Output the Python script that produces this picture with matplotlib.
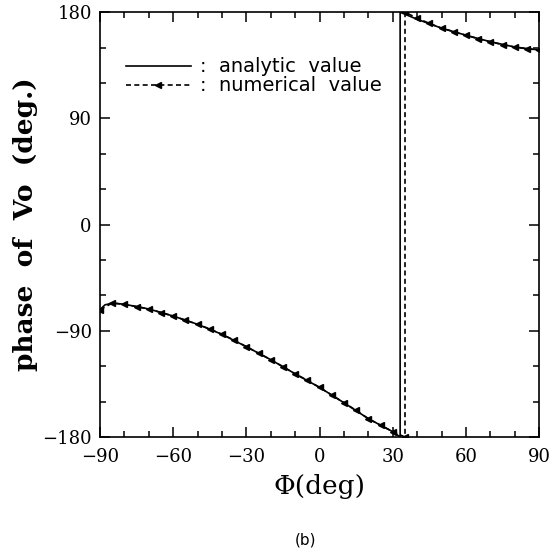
import matplotlib
matplotlib.use("Agg")
import matplotlib.pyplot as plt
from matplotlib.ticker import MultipleLocator

# analytic curve (Phi in deg, phase in deg)
phi_analytic = [-90, -88, -85, -80, -70, -60, -50, -40, -30, -20, -10, 0, 10, 20, 30, 33,
                33, 40, 50, 60, 70, 80, 90]
phase_analytic = [-72, -68, -66.5, -67.5, -71.5, -77.5, -84.5, -93, -103.5, -114.5, -126.5, -138,
                  -151, -164.5, -175.5, -180,
                  180, 174, 166.5, 160.5, 155, 150.5, 148]

# numerical values
phi_numerical = [-90, -85, -80, -75, -70, -65, -60, -55, -50, -45, -40, -35, -30, -25, -20, -15,
                 -10, -5, 0, 5, 10, 15, 20, 25, 30, 35,
                 35, 40, 45, 50, 55, 60, 65, 70, 75, 80, 85, 90]
phase_numerical = [-72, -66.5, -67.5, -69.5, -71.5, -74.5, -77.5, -81, -84.5, -88.5, -93, -98,
                   -103.5, -109, -114.5, -120.5, -126.5, -132, -138, -144.5, -151, -157.5,
                   -164.5, -170, -175.5, -180,
                   180, 175, 170.5, 166.5, 163.5, 160.5, 157.5, 155, 152.5, 150.5, 149, 148]

xticks = [-90, -60, -30, 0, 30, 60, 90]
yticks = [-180, -90, 0, 90, 180]

fig = plt.figure(figsize=(5.53, 5.56), dpi=100)
ax = fig.add_axes([0.181, 0.214, 0.794, 0.764])

ax.plot(phi_analytic, phase_analytic, color="black", lw=1.2, label=":  analytic  value")
ax.plot(phi_numerical, phase_numerical, color="black", lw=1.2, ls=(0, (3, 2)),
        marker="<", markersize=3.8, label=":  numerical  value")

ax.set_xlim(-90, 90)
ax.set_ylim(-180, 180)
ax.set_xticks(xticks)
ax.set_yticks(yticks)
ax.xaxis.set_minor_locator(MultipleLocator(10))
ax.yaxis.set_minor_locator(MultipleLocator(30))
ax.tick_params(which="both", direction="in", top=True, right=True, width=1.1)
ax.tick_params(which="major", length=7, labelsize=13)
ax.tick_params(axis="x", which="major", pad=8)
ax.tick_params(axis="y", which="major", pad=6)
ax.tick_params(which="minor", length=4)
for lab in ax.get_xticklabels() + ax.get_yticklabels():
    lab.set_family("DejaVu Serif")
for s in ax.spines.values():
    s.set_linewidth(1.2)

ax.set_ylabel("phase  of  Vo  (deg.)", family="DejaVu Serif", fontweight="bold", fontsize=19,
              labelpad=3)
ax.set_xlabel("Φ(deg)", family="DejaVu Serif", fontsize=19, labelpad=6)

leg = ax.legend(loc="upper left", bbox_to_anchor=(0.02, 0.935), frameon=False,
                handlelength=3.3, handletextpad=0.5, labelspacing=0.0,
                prop={"family": "DejaVu Sans", "size": 14})

fig.text(0.553, 0.029, "(b)", ha="center", va="center", fontsize=11, family="DejaVu Sans")

fig.savefig("out.png", dpi=100)
